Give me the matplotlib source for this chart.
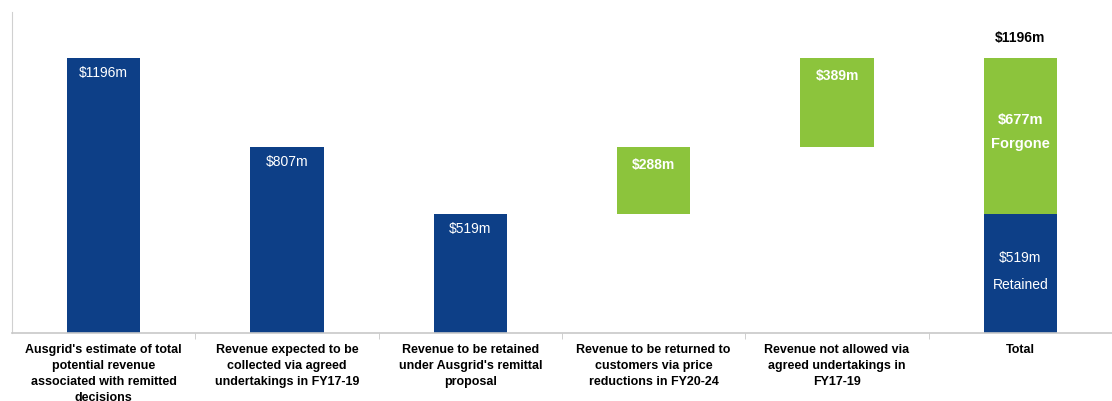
import matplotlib
matplotlib.use("Agg")
import matplotlib.pyplot as plt
import numpy as np

plt.rcParams['font.family'] = ['Liberation Sans', 'DejaVu Sans']

categories = [
    "Ausgrid's estimate of total\npotential revenue\nassociated with remitted\ndecisions",
    "Revenue expected to be\ncollected via agreed\nundertakings in FY17-19",
    "Revenue to be retained\nunder Ausgrid's remittal\nproposal",
    "Revenue to be returned to\ncustomers via price\nreductions in FY20-24",
    "Revenue not allowed via\nagreed undertakings in\nFY17-19",
    "Total",
]
blue_values = [1196, 807, 519, 0, 0, 519]
green_values = [0, 0, 0, 288, 389, 677]
green_bottoms = [0, 0, 0, 519, 807, 519]
value_labels = ["$1196m", "$807m", "$519m", "$288m", "$389m"]
total_label = "$1196m"

BLUE = "#0d3f87"
GREEN = "#8cc43c"

PX = 0.72  # points per pixel at dpi 100

fig = plt.figure(figsize=(11.12, 4.01), dpi=100)
ax = fig.add_axes([0.0108, 0.1696, 0.9892, 0.8004])

x = np.arange(len(categories))
w = 0.4
ax.bar(x, blue_values, width=w, color=BLUE)
ax.bar(x, green_values, width=w, bottom=green_bottoms, color=GREEN)

ax.set_xlim(-0.5, len(categories) - 0.5)
ax.set_ylim(0, 1396)

def lab(xi, y, text, dy_px, color='white', weight='normal', size=10):
    ax.annotate(text, (xi, y), xytext=(0, dy_px * PX), textcoords='offset points',
                ha='center', va='center', color=color, fontsize=size, fontweight=weight)

for i in range(3):
    lab(x[i], blue_values[i], value_labels[i], -15)
for i in (3, 4):
    lab(x[i], green_bottoms[i] + green_values[i], value_labels[i], -18, weight='bold')

i = 5
top = green_bottoms[i] + green_values[i]
lab(x[i], top, total_label, 20, color='black', weight='bold')
lab(x[i], top, "$677m", -62, weight='bold', size=10.5)
lab(x[i], top, "Forgone", -86, weight='bold', size=10.5)
lab(x[i], blue_values[i], "$519m", -44)
lab(x[i], blue_values[i], "Retained", -71)

ax.set_xticks(x)
ax.set_xticklabels(categories, fontsize=9, fontweight='bold', linespacing=1.45)
ax.tick_params(axis='x', length=0, pad=8)
ax.set_xticks(np.arange(0.5, len(categories) - 0.5, 1), minor=True)
ax.tick_params(axis='x', which='minor', length=4, color='#c8c8c8', direction='out')
ax.set_yticks([])

for s in ('top', 'right'):
    ax.spines[s].set_visible(False)
ax.spines['left'].set_color('#d0d0d0')
ax.spines['bottom'].set_color('#c8c8c8')
ax.spines['bottom'].set_linewidth(1.2)

fig.savefig("out.png", dpi=100)
